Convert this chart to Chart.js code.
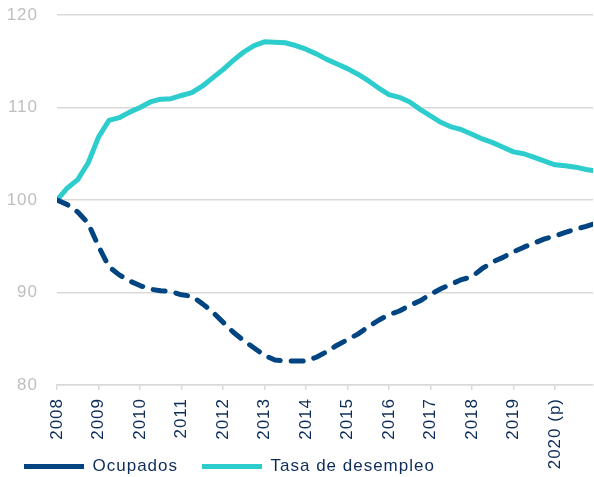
<!DOCTYPE html>
<html>
<head>
<meta charset="utf-8">
<script src="https://cdn.jsdelivr.net/npm/chart.js@4.4.1/dist/chart.umd.min.js"></script>
<style>
  html, body { margin: 0; padding: 0; background: #fff; }
  #contenedor { width: 594px; height: 477px; }
</style>
</head>
<body>
<div id="contenedor"><canvas id="grafico"></canvas></div>
<script>
// Meses desde enero 2008 (muestras trimestrales + último dato)
const meses = [0, 3, 6, 9, 12, 15, 18, 21, 24, 27, 30, 33, 36, 39, 42, 45, 48, 51, 54, 57,
    60, 63, 66, 69, 72, 75, 78, 81, 84, 87, 90, 93, 96, 99, 102, 105, 108, 111, 114, 117,
    120, 123, 126, 129, 132, 135, 138, 141, 144, 147, 150, 153, 155];

// Índice 2008 = 100
const ocupados = [100, 99.5, 98.7, 97.5, 95.0, 92.8, 91.9, 91.25, 90.75, 90.35, 90.2, 90.1,
    89.75, 89.6, 88.8, 87.9, 86.8, 85.7, 84.8, 84.0, 83.2, 82.7, 82.6, 82.6, 82.6, 83.0,
    83.6, 84.3, 84.9, 85.5, 86.3, 87.0, 87.6, 88.0, 88.6, 89.1, 89.8, 90.4, 90.9, 91.4,
    91.7, 92.6, 93.3, 93.8, 94.4, 94.9, 95.35, 95.8, 96.1, 96.5, 96.85, 97.15, 97.4];

const tasaDesempleo = [100, 101.3, 102.2, 104.0, 106.8, 108.6, 108.9, 109.5, 110.0, 110.6,
    110.9, 110.95, 111.3, 111.6, 112.3, 113.2, 114.1, 115.1, 116.0, 116.7, 117.1, 117.05,
    117.0, 116.7, 116.3, 115.8, 115.2, 114.7, 114.2, 113.6, 112.9, 112.1, 111.4, 111.1,
    110.6, 109.8, 109.1, 108.4, 107.9, 107.6, 107.1, 106.6, 106.2, 105.7, 105.2, 105.0,
    104.6, 104.2, 103.8, 103.7, 103.55, 103.3, 103.2];

const etiquetasAnios = ['2008', '2009', '2010', '2011', '2012', '2013', '2014', '2015',
    '2016', '2017', '2018', '2019', '2020 (p)'];

const nombresSeries = ['Ocupados', 'Tasa de desempleo'];

const azulOscuro = '#004481';
const turquesa = '#2dcccd';
const textoAzul = '#0e2c59';
const gris = '#d9d9d9';
const fuente = '"Liberation Sans", Arial, sans-serif';

// Espaciado de letras como en el original
const espaciado = {
    id: 'espaciado',
    beforeLayout(chart) { chart.ctx.letterSpacing = '1px'; },
    beforeDraw(chart) { chart.ctx.letterSpacing = '1px'; }
};

const puntos = serie => meses.map((m, i) => ({ x: m, y: serie[i] }));

new Chart(document.getElementById('grafico'), {
    type: 'line',
    data: {
        datasets: [{
            label: nombresSeries[0],
            data: puntos(ocupados),
            borderColor: azulOscuro,
            backgroundColor: azulOscuro,
            borderWidth: 5,
            borderDash: [12, 11],
            borderCapStyle: 'round',
            borderJoinStyle: 'round',
            pointRadius: 0,
            tension: 0
        }, {
            label: nombresSeries[1],
            data: puntos(tasaDesempleo),
            borderColor: turquesa,
            backgroundColor: turquesa,
            borderWidth: 5,
            borderCapStyle: 'round',
            borderJoinStyle: 'round',
            pointRadius: 0,
            tension: 0
        }]
    },
    options: {
        responsive: true,
        maintainAspectRatio: false,
        animation: false,
        devicePixelRatio: 1,
        layout: { padding: { top: 15, right: 1, left: 0, bottom: -8 } },
        font: { family: fuente, size: 17 },
        plugins: {
            tooltip: { enabled: false },
            legend: {
                position: 'bottom',
                align: 'start',
                labels: {
                    usePointStyle: true,
                    pointStyle: 'line',
                    pointStyleWidth: 60,
                    padding: 24,
                    color: textoAzul,
                    font: { family: fuente, size: 17 }
                }
            }
        },
        scales: {
            x: {
                type: 'linear',
                min: 0,
                max: 155,
                afterFit: s => {
                    s.height = 49;
                    // las etiquetas largas invaden la zona de la leyenda, como en el original
                    s._computeLabelArea = () => null;
                },
                border: { display: true, color: gris, width: 1.5 },
                grid: { drawOnChartArea: false, drawTicks: true, tickLength: 5, color: gris, lineWidth: 1.5 },
                ticks: {
                    stepSize: 12,
                    includeBounds: false,
                    autoSkip: false,
                    maxRotation: 90,
                    minRotation: 90,
                    padding: 8,
                    color: textoAzul,
                    font: { family: fuente, size: 17 },
                    callback: (v) => etiquetasAnios[Math.round(v / 12)]
                }
            },
            y: {
                min: 80,
                max: 120,
                afterFit: s => {
                    s.width = 57;
                    s.paddingTop = 0;
                    s.paddingBottom = 0;
                },
                border: { display: false },
                grid: { color: gris, lineWidth: 1.5, drawTicks: false },
                ticks: {
                    stepSize: 10,
                    padding: 19,
                    color: '#bfbfbf',
                    font: { family: fuente, size: 17 }
                }
            }
        }
    },
    plugins: [espaciado]
});
</script>
</body>
</html>
